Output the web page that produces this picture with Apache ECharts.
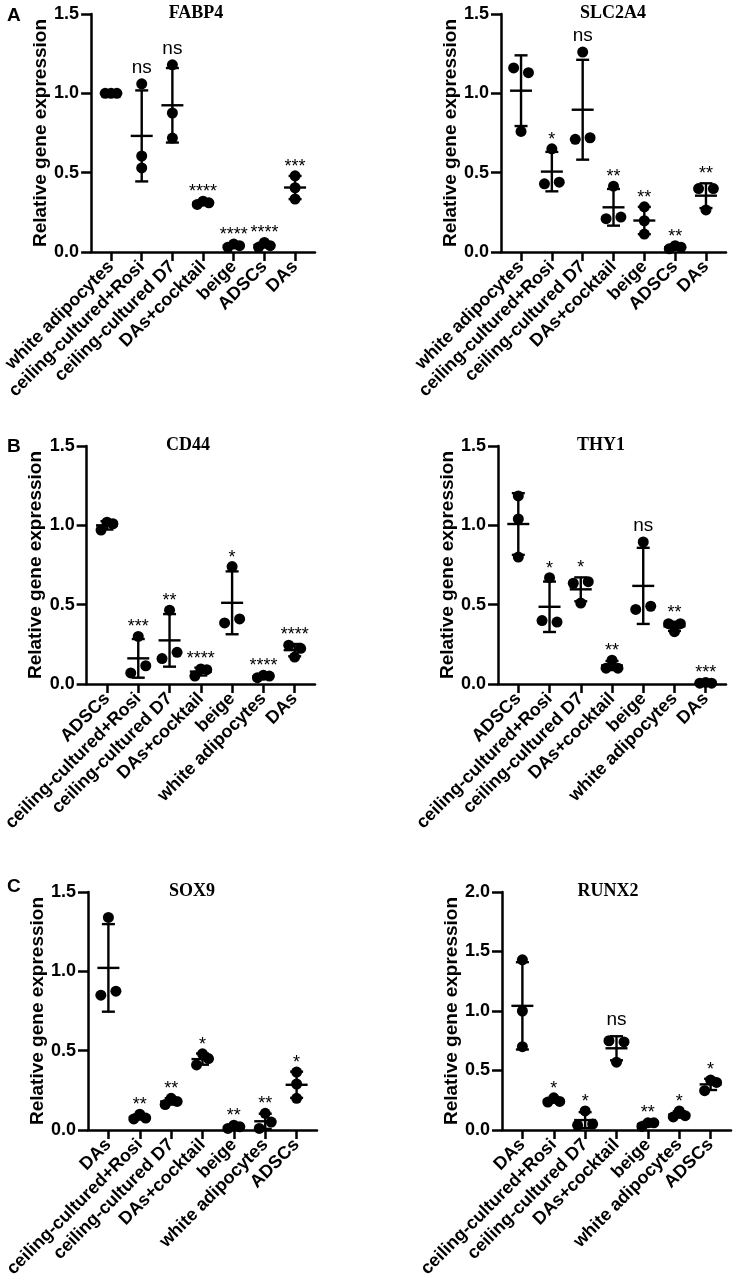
<!DOCTYPE html>
<html>
<head>
<meta charset="utf-8">
<script src="https://cdn.jsdelivr.net/npm/echarts@6/dist/echarts.min.js"></script>
<style>
  html, body { margin: 0; padding: 0; background: #fff; }
  #chart { width: 733px; height: 1288px; }
</style>
</head>
<body>
<div id="chart"></div>
<script>
// category orders (one per row of panels)
var catsA = ['white adipocytes', 'ceiling-cultured+Rosi', 'ceiling-cultured D7', 'DAs+cocktail', 'beige', 'ADSCs', 'DAs'];
var catsB = ['ADSCs', 'ceiling-cultured+Rosi', 'ceiling-cultured D7', 'DAs+cocktail', 'beige', 'white adipocytes', 'DAs'];
var catsC = ['DAs', 'ceiling-cultured+Rosi', 'ceiling-cultured D7', 'DAs+cocktail', 'beige', 'white adipocytes', 'ADSCs'];

// three replicates per group
var fabp4 = [[1, 1, 1], [1.06, 0.605, 0.53], [1.18, 0.876, 0.718], [0.30, 0.32, 0.31], [0.03, 0.05, 0.04], [0.03, 0.06, 0.04], [0.48, 0.405, 0.334]];
var slc2a4 = [[1.16, 1.13, 0.76], [0.65, 0.43, 0.44], [1.26, 0.71, 0.72], [0.415, 0.21, 0.22], [0.285, 0.197, 0.113], [0.02, 0.04, 0.03], [0.40, 0.40, 0.265]];
var cd44 = [[0.97, 1.02, 1.01], [0.30, 0.07, 0.115], [0.465, 0.16, 0.20], [0.05, 0.095, 0.09], [0.74, 0.385, 0.41], [0.04, 0.055, 0.05], [0.245, 0.17, 0.225]];
var thy1 = [[1.185, 1.04, 0.80], [0.67, 0.40, 0.39], [0.635, 0.645, 0.51], [0.10, 0.15, 0.10], [0.895, 0.47, 0.49], [0.38, 0.33, 0.38], [0.005, 0.01, 0.005]];
var sox9 = [[1.34, 0.85, 0.875], [0.07, 0.10, 0.075], [0.16, 0.20, 0.18], [0.41, 0.48, 0.45], [0.01, 0.03, 0.02], [0.01, 0.105, 0.05], [0.365, 0.29, 0.20]];
var runx2 = [[1.43, 1.0, 0.70], [0.235, 0.27, 0.24], [0.04, 0.16, 0.05], [0.75, 0.74, 0.57], [0.03, 0.06, 0.06], [0.11, 0.16, 0.12], [0.33, 0.42, 0.40]];

// significance marks
var sigFABP4 = ['', 'ns', 'ns', '****', '****', '****', '***'];
var sigSLC2A4 = ['', '*', 'ns', '**', '**', '**', '**'];
var sigCD44 = ['', '***', '**', '****', '*', '****', '****'];
var sigTHY1 = ['', '*', '*', '**', 'ns', '**', '***'];
var sigSOX9 = ['', '**', '**', '*', '**', '**', '*'];
var sigRUNX2 = ['', '*', '*', 'ns', '**', '*', '*'];

var ticks15 = [0, 0.5, 1.0, 1.5];
var ticks20 = [0, 0.5, 1.0, 1.5, 2.0];

var SANS = '"Liberation Sans", Arial, sans-serif';
var SERIF = '"Liberation Serif", "Times New Roman", serif';

var panels = [
  { title: 'FABP4', cats: catsA, vals: fabp4, sig: sigFABP4, ticks: ticks15, box: { left: 90, top: 14, width: 225, height: 238 }, tx: 191 },
  { title: 'SLC2A4', cats: catsA, vals: slc2a4, sig: sigSLC2A4, ticks: ticks15, box: { left: 501, top: 14, width: 225, height: 238 }, tx: 608 },
  { title: 'CD44', cats: catsB, vals: cd44, sig: sigCD44, ticks: ticks15, box: { left: 86, top: 446, width: 229, height: 238 }, tx: 183 },
  { title: 'THY1', cats: catsB, vals: thy1, sig: sigTHY1, ticks: ticks15, box: { left: 498, top: 446, width: 228, height: 238 }, tx: 596 },
  { title: 'SOX9', cats: catsC, vals: sox9, sig: sigSOX9, ticks: ticks15, box: { left: 88, top: 892, width: 229, height: 238 }, tx: 187 },
  { title: 'RUNX2', cats: catsC, vals: runx2, sig: sigRUNX2, ticks: ticks20, box: { left: 502, top: 892, width: 229, height: 238 }, tx: 603 }
];

function mean(a) { return a.reduce(function (s, v) { return s + v; }, 0) / a.length; }
function sd(a) {
  var m = mean(a);
  return Math.sqrt(a.reduce(function (s, v) { return s + (v - m) * (v - m); }, 0) / (a.length - 1));
}

// side-by-side placement of dots that would overlap (like a scatter dot plot)
function spread(vals, thr) {
  var idx = vals.map(function (v, i) { return i; }).sort(function (a, b) { return vals[a] - vals[b]; });
  var clusters = [], cur = [idx[0]];
  for (var k = 1; k < idx.length; k++) {
    if (vals[idx[k]] - vals[idx[k - 1]] < thr) cur.push(idx[k]);
    else { clusters.push(cur); cur = [idx[k]]; }
  }
  clusters.push(cur);
  var off = [];
  clusters.forEach(function (c) {
    c.sort(function (a, b) { return a - b; });
    var step = c.length === 2 ? 0.48 : 0.19;
    c.forEach(function (di, j) { off[di] = (j - (c.length - 1) / 2) * step; });
  });
  return off;
}

var catIdx = [0, 1, 2, 3, 4, 5, 6];
var grids = [], xAxes = [], yAxes = [], series = [], titles = [];

panels.forEach(function (p, n) {
  var yMax = p.ticks[p.ticks.length - 1];
  grids.push(p.box);
  titles.push({
    text: p.title, left: p.tx, top: p.box.top - 15, textAlign: 'center',
    textStyle: { fontFamily: SERIF, fontWeight: 'bold', fontSize: 18, color: '#000' }
  });
  xAxes.push({
    type: 'value', gridIndex: n, min: -0.65, max: 6.65,
    splitLine: { show: false },
    axisLine: { show: true, onZero: false, lineStyle: { color: '#000', width: 2.5 } },
    axisTick: { show: true, customValues: catIdx, length: 9, lineStyle: { color: '#000', width: 2.5 } },
    axisLabel: {
      customValues: catIdx, rotate: 45, margin: 12, color: '#000',
      fontFamily: SANS, fontWeight: 'bold', fontSize: 18,
      formatter: function (v) { return p.cats[Math.round(v)]; }
    }
  });
  yAxes.push({
    type: 'value', gridIndex: n, min: 0, max: yMax, interval: 0.5,
    name: 'Relative gene expression', nameLocation: 'middle', nameGap: 36,
    nameTextStyle: { fontFamily: SANS, fontWeight: 'bold', fontSize: 19, color: '#000' },
    splitLine: { show: false },
    axisLine: { show: true, onZero: false, lineStyle: { color: '#000', width: 2.5 } },
    axisTick: { show: true, length: 10, lineStyle: { color: '#000', width: 2.5 } },
    axisLabel: {
      margin: 12, color: '#000', fontFamily: SANS, fontWeight: 'bold', fontSize: 18,
      formatter: function (v) { return v.toFixed(1); }
    }
  });

  var thr = 0.046 * yMax;
  var dots = [], bars = [], marks = [];
  p.vals.forEach(function (g, i) {
    var off = spread(g, thr);
    g.forEach(function (v, j) { dots.push([i + off[j], v]); });
    var m = mean(g), s = sd(g);
    bars.push([i, m, s]);
    marks.push([i, Math.max(Math.max.apply(null, g), m + s)]);
  });

  series.push({
    type: 'custom', xAxisIndex: n, yAxisIndex: n, z: 2, clip: false,
    data: bars,
    renderItem: function (params, api) {
      var x = api.value(0), m = api.value(1), s = api.value(2);
      var c = api.coord([x, m]), top = api.coord([x, m + s]), bot = api.coord([x, m - s]);
      var st = { stroke: '#000', lineWidth: 2.4 };
      return {
        type: 'group',
        children: [
          { type: 'line', shape: { x1: c[0], y1: top[1], x2: c[0], y2: bot[1] }, style: st },
          { type: 'line', shape: { x1: c[0] - 6.5, y1: top[1], x2: c[0] + 6.5, y2: top[1] }, style: st },
          { type: 'line', shape: { x1: c[0] - 6.5, y1: bot[1], x2: c[0] + 6.5, y2: bot[1] }, style: st },
          { type: 'line', shape: { x1: c[0] - 11, y1: c[1], x2: c[0] + 11, y2: c[1] }, style: st }
        ]
      };
    }
  });
  series.push({
    type: 'scatter', xAxisIndex: n, yAxisIndex: n, z: 3,
    symbol: 'circle', symbolSize: 11, itemStyle: { color: '#000', opacity: 1 },
    data: dots
  });
  series.push({
    type: 'custom', xAxisIndex: n, yAxisIndex: n, z: 4, clip: false,
    data: marks,
    renderItem: function (params, api) {
      var lab = p.sig[params.dataIndex];
      if (!lab) return null;
      var c = api.coord([api.value(0), api.value(1)]);
      var isNs = lab === 'ns';
      return {
        type: 'text',
        x: c[0], y: c[1] - (isNs ? 16 : 9),
        style: {
          text: lab, fill: '#000', align: 'center', verticalAlign: 'middle',
          font: (isNs ? '19px ' : '18px ') + SANS
        }
      };
    }
  });
});

// panel letters
[['A', 1], ['B', 432], ['C', 872]].forEach(function (l) {
  titles.push({
    text: l[0], left: 2, top: l[1],
    textStyle: { fontFamily: SANS, fontWeight: 'bold', fontSize: 19, color: '#000' }
  });
});

var chart = echarts.init(document.getElementById('chart'));
chart.setOption({
  animation: false,
  backgroundColor: '#fff',
  title: titles,
  grid: grids,
  xAxis: xAxes,
  yAxis: yAxes,
  series: series
});
</script>
</body>
</html>
